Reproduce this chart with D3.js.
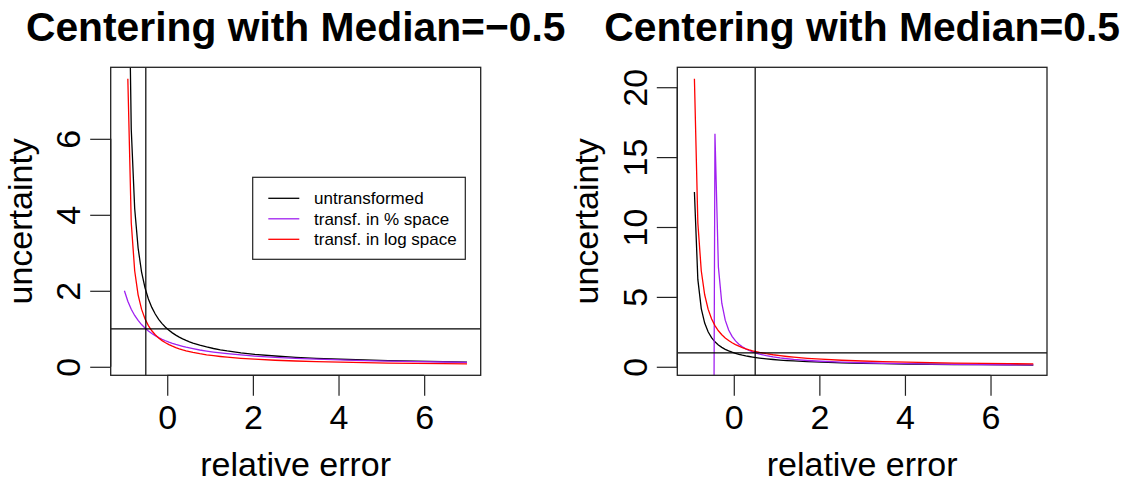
<!DOCTYPE html>
<html>
<head>
<meta charset="utf-8">
<script src="https://cdn.jsdelivr.net/npm/d3@7"></script>
<style>
  html, body { margin: 0; padding: 0; background: #fff; }
  svg { display: block; }
  text { font-family: "Liberation Sans", Arial, Helvetica, sans-serif; fill: #000; }
</style>
</head>
<body>
<svg id="chart" width="1129" height="483"></svg>
<script>
// ---------------- data ----------------
const relErr = [-1, -0.92, -0.84, -0.76, -0.68, -0.6, -0.52, -0.44, -0.36, -0.28, -0.2, -0.12, -0.04,
  0.04, 0.12, 0.2, 0.28, 0.36, 0.44, 0.52, 0.6, 0.76, 0.92, 1.08, 1.24, 1.4, 1.72, 2.04, 2.52,
  3, 3.48, 4.04, 4.6, 5.16, 5.8, 6.44, 7];

// untransformed (same in both panels); null = not drawn
const untransformed = [null, 12.5, 6.25, 4.167, 3.125, 2.5, 2.083, 1.786, 1.563, 1.389, 1.25, 1.136, 1.042,
  0.962, 0.893, 0.833, 0.781, 0.735, 0.694, 0.658, 0.625, 0.568, 0.521, 0.481, 0.446, 0.417, 0.368, 0.329, 0.284,
  0.25, 0.223, 0.198, 0.179, 0.162, 0.147, 0.134, 0.125];

// panel 1: median = -0.5
const pctSpaceNeg = [2, 1.724, 1.515, 1.351, 1.22, 1.111, 1.02, 0.943, 0.877, 0.82, 0.769, 0.725, 0.685,
  0.649, 0.617, 0.588, 0.562, 0.538, 0.515, 0.495, 0.476, 0.442, 0.413, 0.388, 0.365, 0.345, 0.311, 0.282, 0.249,
  0.222, 0.201, 0.181, 0.164, 0.15, 0.137, 0.126, 0.118];
const logSpaceNeg = [null, 7.582, 3.791, 2.527, 1.895, 1.516, 1.264, 1.083, 0.948, 0.842, 0.758, 0.689, 0.632,
  0.583, 0.542, 0.505, 0.474, 0.446, 0.421, 0.399, 0.379, 0.345, 0.316, 0.292, 0.271, 0.253, 0.223, 0.2, 0.172,
  0.152, 0.135, 0.12, 0.108, 0.098, 0.089, 0.082, 0.076];

// panel 2: median = 0.5
const pctSpacePos = [-2, -2.381, -2.941, -3.846, -5.556, -10, -50, 16.667, 7.143, 4.545, 3.333, 2.632, 2.174,
  1.852, 1.613, 1.429, 1.282, 1.163, 1.064, 0.98, 0.909, 0.794, 0.704, 0.633, 0.575, 0.526, 0.45, 0.394, 0.331,
  0.286, 0.251, 0.22, 0.196, 0.177, 0.159, 0.144, 0.133];
const logSpacePos = [null, 20.609, 10.305, 6.87, 5.152, 4.122, 3.435, 2.944, 2.576, 2.29, 2.061, 1.874, 1.717,
  1.585, 1.472, 1.374, 1.288, 1.212, 1.145, 1.085, 1.03, 0.937, 0.859, 0.793, 0.736, 0.687, 0.606, 0.542, 0.468,
  0.412, 0.368, 0.327, 0.294, 0.268, 0.242, 0.222, 0.206];

const medians = [-0.5, 0.5];
const titles = ["Centering with Median=\u22120.5", "Centering with Median=0.5"];
const xTicks = [0, 2, 4, 6];
const yTicksNeg = [0, 2, 4, 6];
const yTicksPos = [0, 5, 10, 15, 20];
const seriesNames = ["untransformed", "transf. in % space", "transf. in log space"];
const seriesColors = ["#000000", "#A020F0", "#FF0000"];
const xLabel = "relative error";
const yLabel = "uncertainty";
const refLevel = 1;

// ---------------- layout ----------------
const svg = d3.select("#chart");
const panels = [
  { left: 110.7, right: 480.7, top: 67.3, bottom: 375.3, pct: pctSpaceNeg, log: logSpaceNeg, yTicks: yTicksNeg, legend: true },
  { left: 677.3, right: 1047, top: 67.3, bottom: 375.3, pct: pctSpacePos, log: logSpacePos, yTicks: yTicksPos, legend: false }
];

function extRange(vals) {
  const v = vals.filter(d => d !== null && isFinite(d));
  const lo = d3.min(v), hi = d3.max(v), s = hi - lo;
  return [lo - 0.04 * s, hi + 0.04 * s];
}

const LABEL_SIZE = 34;

panels.forEach((p, i) => {
  const x = d3.scaleLinear().domain(extRange(relErr)).range([p.left, p.right]);
  const y = d3.scaleLinear().domain(extRange(p.log)).range([p.bottom, p.top]);
  const g = svg.append("g");
  const clipId = "clip" + i;
  g.append("clipPath").attr("id", clipId).append("rect")
    .attr("x", p.left).attr("y", p.top).attr("width", p.right - p.left).attr("height", p.bottom - p.top);

  const plot = g.append("g").attr("clip-path", `url(#${clipId})`);
  const series = [untransformed, p.pct, p.log];
  const line = d3.line()
    .defined(d => d[1] !== null)
    .x(d => x(d[0])).y(d => y(d[1]));
  series.forEach((s, k) => {
    plot.append("path")
      .datum(relErr.map((xv, j) => [xv, s[j]]))
      .attr("d", line)
      .attr("fill", "none")
      .attr("stroke", seriesColors[k])
      .attr("stroke-width", 1.3);
  });
  // reference lines
  plot.append("line")
    .attr("x1", x(medians[i])).attr("x2", x(medians[i]))
    .attr("y1", p.top).attr("y2", p.bottom)
    .attr("stroke", "#000").attr("stroke-width", 1.2);
  plot.append("line")
    .attr("x1", p.left).attr("x2", p.right)
    .attr("y1", y(refLevel)).attr("y2", y(refLevel))
    .attr("stroke", "#000").attr("stroke-width", 1.2);

  // box
  g.append("rect")
    .attr("x", p.left).attr("y", p.top).attr("width", p.right - p.left).attr("height", p.bottom - p.top)
    .attr("fill", "none").attr("stroke", "#222").attr("stroke-width", 1.3);

  // x axis
  const xAxis = d3.axisBottom(x).tickValues(xTicks).tickSize(20.5).tickPadding(8).tickFormat(d3.format("d"));
  const xa = g.append("g").attr("transform", `translate(0,${p.bottom})`).call(xAxis);
  xa.select(".domain").attr("d", `M${x(xTicks[0])},0H${x(xTicks[xTicks.length - 1])}`).attr("stroke", "#222").attr("stroke-width", 1.3);
  xa.selectAll(".tick line").attr("stroke", "#222").attr("stroke-width", 1.2);
  xa.selectAll(".tick text")
    .attr("y", 54).attr("dy", null)
    .style("font-size", LABEL_SIZE + "px").style("font-family", '"Liberation Sans", Arial, sans-serif');

  // y axis
  const yAxis = d3.axisLeft(y).tickValues(p.yTicks).tickSize(20.5).tickFormat(d3.format("d"));
  const ya = g.append("g").attr("transform", `translate(${p.left},0)`).call(yAxis);
  ya.select(".domain").attr("d", `M0,${y(p.yTicks[0])}V${y(p.yTicks[p.yTicks.length - 1])}`).attr("stroke", "#222").attr("stroke-width", 1.3);
  ya.selectAll(".tick line").attr("stroke", "#222").attr("stroke-width", 1.2);
  ya.selectAll(".tick text")
    .attr("x", null).attr("dy", null)
    .attr("text-anchor", "middle")
    .attr("transform", "translate(-30.7,0) rotate(-90)")
    .style("font-size", LABEL_SIZE + "px").style("font-family", '"Liberation Sans", Arial, sans-serif');

  // axis titles
  const cx = (p.left + p.right) / 2, cy = (p.top + p.bottom) / 2;
  g.append("text").attr("x", cx).attr("y", 475.5).attr("text-anchor", "middle")
    .style("font-size", LABEL_SIZE + "px").text(xLabel);
  g.append("text").attr("transform", `translate(${p.left - 79},${cy}) rotate(-90)`).attr("text-anchor", "middle")
    .style("font-size", LABEL_SIZE + "px").text(yLabel);

  // title
  g.append("text").attr("x", cx).attr("y", 41).attr("text-anchor", "middle")
    .style("font-size", "40.8px").style("font-weight", "bold").text(titles[i]);

  // legend
  if (p.legend) {
    const L = { x: 252.7, y: 177.3, w: 212.6, h: 82 };
    const lg = g.append("g");
    lg.append("rect").attr("x", L.x).attr("y", L.y).attr("width", L.w).attr("height", L.h)
      .attr("fill", "#fff").attr("stroke", "#222").attr("stroke-width", 1.2);
    seriesNames.forEach((name, k) => {
      const ry = 198.3 + k * 20.5;
      lg.append("line").attr("x1", 268.3).attr("x2", 299.3).attr("y1", ry).attr("y2", ry)
        .attr("stroke", seriesColors[k]).attr("stroke-width", 1.3);
      lg.append("text").attr("x", 314).attr("y", ry + 6).style("font-size", "17px").text(name);
    });
  }
});
</script>
</body>
</html>
